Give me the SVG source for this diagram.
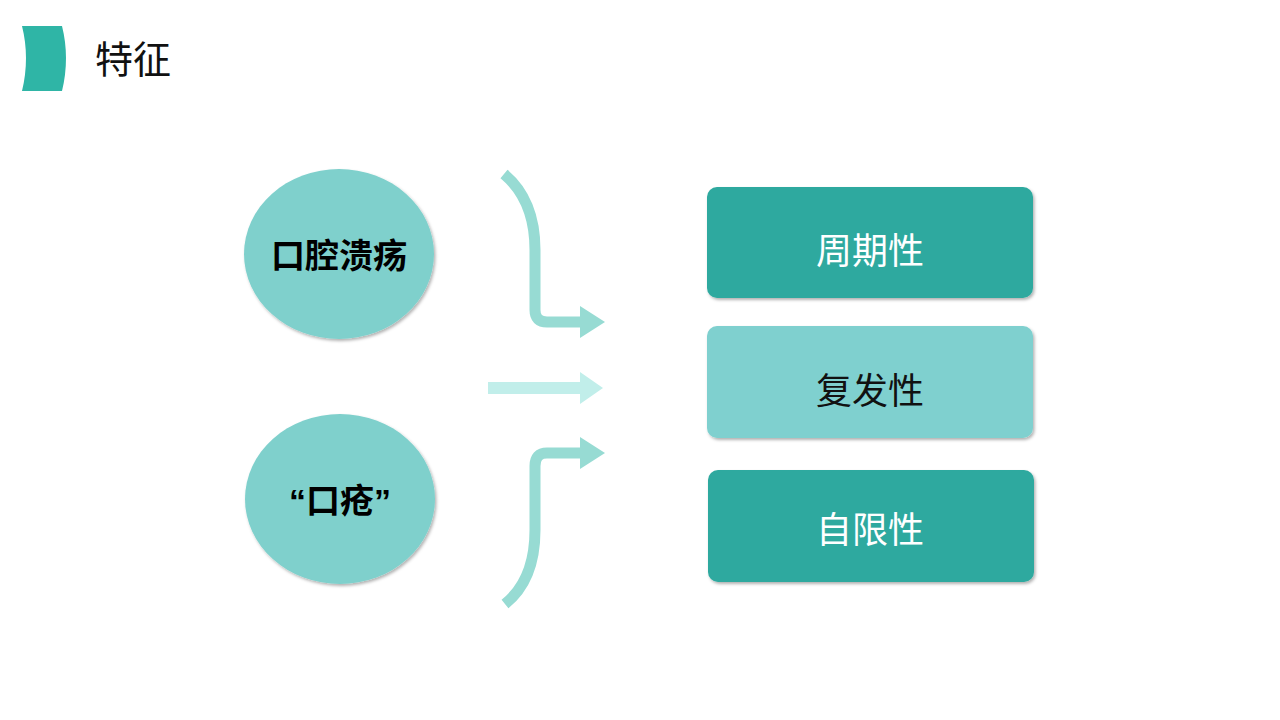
<svg xmlns="http://www.w3.org/2000/svg" width="1280" height="720" viewBox="0 0 1280 720">
<style>
.cn{font-family:"Liberation Sans","Noto Sans CJK SC",sans-serif}
.ell{fill:#7fd0cc;filter:url(#sh)}
.box{filter:url(#sh)}
.arr{fill:none;stroke:#97dbd3;stroke-width:11}
</style>
<defs>
<filter id="sh" x="-10%" y="-10%" width="130%" height="130%"><feDropShadow dx="1.5" dy="2" stdDeviation="1.5" flood-color="#000" flood-opacity="0.3"/></filter>
</defs>
<rect width="1280" height="720" fill="#fff"/>
<path d="M22,26 H62 Q70,58 62,91 H22 Q30,58 22,26 Z" fill="#2fb5a6"/>
<text x="95" y="73" class="cn" font-size="38" fill="#111">特征</text>
<g id="connectors">
<path class="arr" d="M504,174 Q535,200 535,250 V310 Q535,322 547,322 H582"/>
<polygon points="580,306 605,322 580,338" fill="#97dbd3"/>
<path d="M488,388 H582" stroke="#c1eeea" stroke-width="12"/>
<polygon points="580,372 603,388 580,404" fill="#c1eeea"/>
<path class="arr" d="M505,604 Q535,580 535,530 V466 Q535,453 547,453 H582"/>
<polygon points="580,437 605,453 580,469" fill="#97dbd3"/>
</g>
<g id="n1"><ellipse class="ell" cx="339" cy="254" rx="95" ry="85"/><text x="339" y="268" text-anchor="middle" class="cn" font-size="34" font-weight="bold" fill="#000">口腔溃疡</text></g>
<g id="n2"><ellipse class="ell" cx="340" cy="499" rx="95" ry="85"/><text x="340" y="513" text-anchor="middle" class="cn" font-size="34" font-weight="bold" fill="#000">“口疮”</text></g>
<g id="b1"><rect class="box" x="707" y="187" width="326" height="111" rx="10" fill="#2fa99f"/><text x="870" y="264" text-anchor="middle" class="cn" font-size="36" fill="#fff">周期性</text></g>
<g id="b2"><rect class="box" x="707" y="326" width="326" height="112" rx="10" fill="#7fd0cf"/><text x="870" y="404" text-anchor="middle" class="cn" font-size="36" fill="#111">复发性</text></g>
<g id="b3"><rect class="box" x="708" y="470" width="326" height="112" rx="10" fill="#2fa99f"/><text x="870" y="543" text-anchor="middle" class="cn" font-size="36" fill="#fff">自限性</text></g>
</svg>
